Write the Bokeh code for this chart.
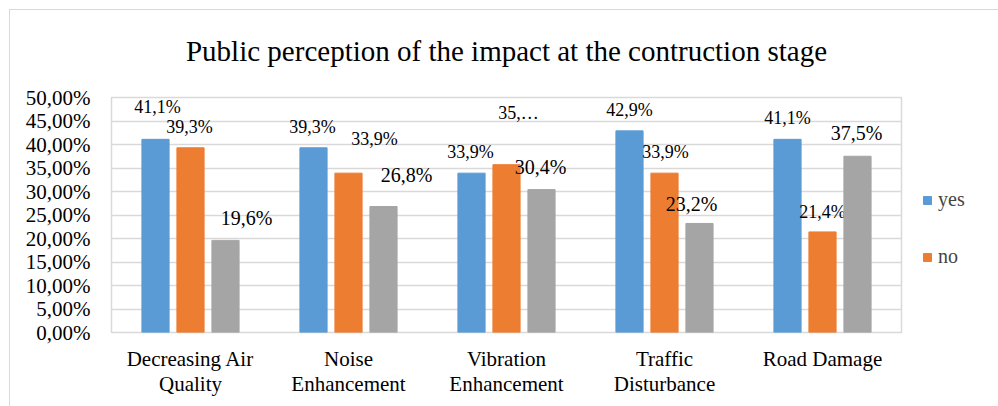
from bokeh.plotting import figure
from bokeh.models import (ColumnDataSource, FactorRange, FixedTicker, Legend, LegendItem,
                          CategoricalAxis, Title)
from bokeh.transform import dodge
from bokeh.core.properties import value
from bokeh.embed import file_html
from bokeh.resources import INLINE

# ---- data ----
categories = ["Decreasing Air Quality", "Noise Enhancement", "Vibration Enhancement",
              "Traffic Disturbance", "Road Damage"]
label_line1 = ["Decreasing Air", "Noise", "Vibration", "Traffic", "Road Damage"]
label_line2 = ["Quality", "Enhancement", "Enhancement\u200b", "Disturbance", " "]
yes_values = [41.1, 39.3, 33.9, 42.9, 41.1]
no_values = [39.3, 33.9, 35.7, 33.9, 21.4]
third_values = [19.6, 26.8, 30.4, 23.2, 37.5]
y_ticks = [0, 5, 10, 15, 20, 25, 30, 35, 40, 45, 50]
title_text = "Public perception of the impact at the contruction stage"

# ---- styles ----
FONT = "Liberation Serif"
GFONT = "Times New Roman"   # resolves to Liberation Serif
colors = ["#5B9BD5", "#ED7D31", "#A5A5A5"]
bar_offsets = [-0.2215, 0.0, 0.2215]
bar_width = 0.172
label_dx = [[2, -1, -1, 0, 0], [-1, 26, 12, 1, 0], [21, 23, -1, -8, -1]]
label_dy = [[-32, -21, -21, -21, -21], [-21, -34, -52, -21, -20], [-22, -32, -23, -19, -23]]
label_size = ["18px", "18px", "20px"]
truncated = {(1, 2): "35,\u2026"}


def fmt(v):
    return ("%.1f%%" % v).replace(".", ",")


p = figure(x_range=FactorRange(*categories), y_range=(0, 50),
           width=988, height=396, frame_width=790, frame_height=235,
           min_border_left=101, min_border_right=97, min_border_top=87, min_border_bottom=74,
           x_axis_location=None,
           output_backend="svg", toolbar_location=None, tools="")
p.styles = {"border-left": "1px solid #d9d9d9", "border-top": "1px solid #d9d9d9",
            "margin-left": "9px", "margin-top": "9px"}
p.extra_x_ranges = {"line1": FactorRange(*label_line1), "line2": FactorRange(*label_line2)}

series = [yes_values, no_values, third_values]
renderers = []
for i, vals in enumerate(series):
    src = ColumnDataSource(dict(
        cat=categories, val=vals,
        lab=[truncated.get((i, j), fmt(v)) for j, v in enumerate(vals)],
        dx=label_dx[i], dy=label_dy[i]))
    r = p.vbar(x=dodge("cat", bar_offsets[i], range=p.x_range), top="val", width=bar_width,
               source=src, fill_color=colors[i], line_color=colors[i])
    renderers.append(r)
    p.text(x=dodge("cat", bar_offsets[i], range=p.x_range), y="val", text="lab",
           x_offset="dx", y_offset="dy", source=src,
           text_font=value(GFONT), text_font_size=label_size[i], text_color="#000000",
           text_align="center", text_baseline="middle")

p.yaxis.ticker = FixedTicker(ticks=y_ticks)
p.yaxis.major_label_overrides = {t: ("%.2f%%" % t).replace(".", ",") for t in y_ticks}
xaxis1 = CategoricalAxis(x_range_name="line1")
xaxis2 = CategoricalAxis(x_range_name="line2")
p.add_layout(xaxis1, "below")
p.add_layout(xaxis2, "below")
for ax in (xaxis1, xaxis2, p.yaxis[0]):
    ax.axis_line_color = None
    ax.major_tick_line_color = None
    ax.minor_tick_line_color = None
    ax.major_label_text_font = FONT
    ax.major_label_text_font_size = "21px"
    ax.major_label_text_color = "#000000"
p.yaxis.major_label_standoff = 15
xaxis1.major_label_standoff = 8
xaxis2.major_label_standoff = -8

p.xgrid.grid_line_color = None
p.ygrid.grid_line_color = "#d9d9d9"
p.ygrid.grid_line_width = 1.5
p.outline_line_color = "#d9d9d9"
p.outline_line_width = 1.5
p.background_fill_color = "white"
p.border_fill_color = "white"

# title: a small spacer title next to the frame, the real title above it
p.title = None
spacer = Title(text=" ", text_font_size="1px", standoff=28)
p.add_layout(spacer, "above")
p.add_layout(Title(text=title_text, align="center", text_font=FONT, text_font_size="29px",
                   text_font_style="normal", text_color="#000000", standoff=0), "above")

legend = Legend(items=[LegendItem(label="yes", renderers=[renderers[0]]),
                       LegendItem(label="no", renderers=[renderers[1]])],
                location=(21, 64), orientation="vertical",
                glyph_width=10, glyph_height=10, label_height=20, spacing=34,
                label_standoff=6, padding=0, margin=21,
                label_text_font=GFONT, label_text_font_size="20px",
                border_line_color=None, background_fill_alpha=0)
p.add_layout(legend, "right")

open("out.html", "w").write(file_html(p, INLINE))
